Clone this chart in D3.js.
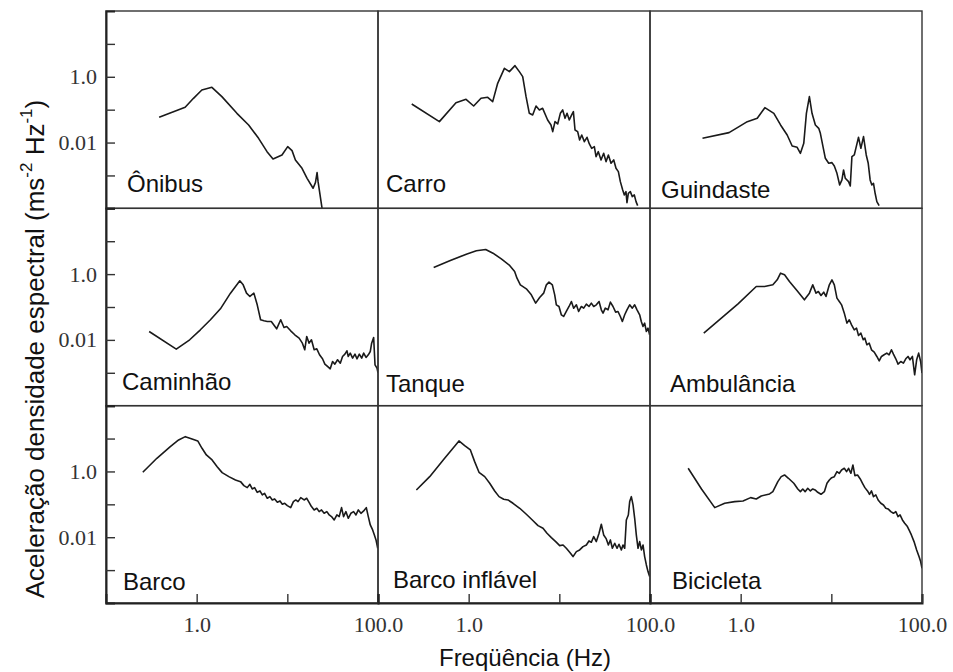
<!DOCTYPE html>
<html><head><meta charset="utf-8">
<script src="https://cdn.jsdelivr.net/npm/d3@7/dist/d3.min.js"></script>
<style>body{margin:0;background:#fff}svg{display:block}</style>
</head><body>
<svg id="c" width="953" height="672"></svg>
<script>
// Values, as [log10(frequency Hz), log10(PSD m²s⁻⁴/Hz)]
const panelNames = ["Ônibus","Carro","Guindaste","Caminhão","Tanque","Ambulância","Barco","Barco inflável","Bicicleta"];
const xTickValues = [1, 10, 100];
const xTickLabels = ["1.0", "", "100.0"];
const yTickValues = [1e-3, 1e-2, 1e-1, 1, 10];
const yTickLabels = ["", "0.01", "", "1.0", ""];

const onibus = [[-0.414,-1.233],[-0.127,-0.928],[-0.035,-0.655],[0.057,-0.402],[0.168,-0.320],[0.278,-0.604],[0.444,-1.111],[0.573,-1.465],[0.683,-1.871],[0.776,-2.276],[0.842,-2.499],[0.941,-2.377],[1.004,-2.124],[1.052,-2.245],[1.089,-2.529],[1.162,-2.783],[1.218,-3.087],[1.284,-3.390],[1.310,-3.218],[1.328,-2.914],[1.339,-3.188],[1.383,-4.0]];
const carro = [[-0.628,-0.827],[-0.323,-1.364],[-0.140,-0.787],[-0.029,-0.685],[0.055,-0.888],[0.136,-0.655],[0.210,-0.624],[0.265,-0.756],[0.320,-0.199],[0.394,0.257],[0.449,0.156],[0.511,0.338],[0.559,0.156],[0.596,0.004],[0.633,-0.604],[0.669,-1.111],[0.706,-1.161],[0.743,-0.888],[0.780,-1.009],[0.816,-0.959],[0.871,-1.313],[0.908,-1.465],[0.927,-1.668],[0.952,-1.364],[0.982,-1.435],[1.011,-1.111],[1.037,-1.009],[1.063,-1.263],[1.085,-1.111],[1.110,-1.313],[1.136,-1.161],[1.155,-1.060],[1.173,-1.617],[1.202,-1.668],[1.224,-1.921],[1.247,-1.769],[1.276,-1.972],[1.305,-1.840],[1.331,-2.043],[1.357,-2.175],[1.386,-2.124],[1.405,-2.428],[1.430,-2.276],[1.460,-2.529],[1.489,-2.327],[1.515,-2.580],[1.541,-2.377],[1.570,-2.630],[1.600,-2.529],[1.625,-2.783],[1.651,-2.884],[1.673,-3.188],[1.699,-3.441],[1.717,-3.593],[1.735,-3.492],[1.746,-3.826],[1.761,-3.542],[1.783,-3.492],[1.805,-3.644],[1.827,-3.593],[1.846,-3.796],[1.864,-3.917]];
const guindaste = [[-0.421,-1.871],[-0.128,-1.698],[-0.018,-1.516],[0.073,-1.364],[0.183,-1.263],[0.267,-0.939],[0.366,-1.111],[0.440,-1.465],[0.513,-1.769],[0.568,-2.104],[0.623,-2.144],[0.659,-2.327],[0.696,-2.023],[0.725,-1.111],[0.758,-0.604],[0.787,-1.111],[0.824,-1.465],[0.861,-1.567],[0.879,-1.719],[0.908,-2.124],[0.934,-2.479],[0.971,-2.631],[1.007,-2.610],[1.033,-2.712],[1.062,-2.935],[1.092,-3.289],[1.117,-3.137],[1.135,-2.833],[1.154,-3.087],[1.190,-3.188],[1.209,-3.320],[1.227,-2.428],[1.253,-2.377],[1.275,-2.124],[1.300,-1.840],[1.326,-2.175],[1.355,-1.820],[1.385,-2.377],[1.407,-2.631],[1.428,-3.137],[1.447,-3.289],[1.465,-3.238],[1.483,-3.542],[1.502,-3.796],[1.527,-3.917]];
const caminhao = [[-0.524,-1.744],[-0.225,-2.281],[-0.077,-1.997],[0.041,-1.693],[0.152,-1.389],[0.262,-1.055],[0.373,-0.579],[0.476,-0.204],[0.513,-0.326],[0.550,-0.579],[0.587,-0.680],[0.631,-0.579],[0.668,-0.934],[0.705,-1.389],[0.742,-1.420],[0.779,-1.440],[0.823,-1.440],[0.882,-1.663],[0.927,-1.389],[0.963,-1.622],[0.993,-1.592],[1.037,-1.724],[1.082,-1.845],[1.130,-1.947],[1.166,-2.099],[1.192,-2.301],[1.214,-1.896],[1.240,-2.099],[1.266,-1.997],[1.296,-2.301],[1.325,-2.271],[1.355,-2.453],[1.388,-2.575],[1.414,-2.737],[1.443,-2.808],[1.473,-2.879],[1.499,-2.656],[1.524,-2.737],[1.554,-2.605],[1.584,-2.707],[1.609,-2.504],[1.635,-2.433],[1.657,-2.332],[1.672,-2.504],[1.694,-2.402],[1.720,-2.555],[1.746,-2.433],[1.768,-2.575],[1.794,-2.433],[1.820,-2.555],[1.842,-2.402],[1.868,-2.534],[1.893,-2.453],[1.915,-2.352],[1.930,-2.099],[1.952,-1.926],[1.967,-2.757],[1.989,-2.859],[2.0,-3.0]];
const tanque = [[-0.386,0.201],[-0.209,0.404],[-0.026,0.606],[0.085,0.708],[0.188,0.748],[0.268,0.637],[0.360,0.465],[0.452,0.262],[0.507,0.080],[0.533,-0.123],[0.570,-0.326],[0.636,-0.447],[0.691,-0.630],[0.739,-0.883],[0.783,-0.711],[0.827,-0.579],[0.857,-0.326],[0.886,-0.245],[0.923,-0.326],[0.949,-0.630],[0.967,-0.934],[0.996,-0.984],[1.022,-1.237],[1.048,-1.288],[1.077,-1.136],[1.107,-0.984],[1.133,-0.832],[1.158,-1.035],[1.188,-0.934],[1.213,-1.136],[1.243,-0.984],[1.269,-1.035],[1.298,-0.913],[1.327,-0.984],[1.353,-0.883],[1.379,-0.984],[1.408,-0.934],[1.438,-0.832],[1.463,-1.085],[1.482,-1.187],[1.507,-1.035],[1.537,-1.085],[1.563,-0.852],[1.592,-0.984],[1.621,-1.156],[1.647,-1.136],[1.673,-1.288],[1.695,-1.440],[1.721,-1.237],[1.746,-1.085],[1.776,-0.934],[1.805,-1.035],[1.831,-0.934],[1.857,-1.085],[1.886,-1.237],[1.904,-1.440],[1.923,-1.592],[1.941,-1.491],[1.960,-1.744],[1.978,-1.643],[1.996,-1.845]];
const ambulancia = [[-0.407,-1.795],[-0.213,-1.339],[-0.029,-0.903],[0.172,-0.376],[0.264,-0.376],[0.355,-0.326],[0.403,-0.174],[0.440,0.029],[0.484,-0.022],[0.538,-0.224],[0.623,-0.508],[0.703,-0.782],[0.758,-0.579],[0.795,-0.326],[0.831,-0.579],[0.857,-0.528],[0.886,-0.650],[0.916,-0.549],[0.941,-0.680],[0.978,-0.326],[1.007,-0.174],[1.033,-0.326],[1.062,-0.731],[1.088,-0.832],[1.113,-0.934],[1.143,-1.187],[1.172,-1.491],[1.198,-1.389],[1.223,-1.542],[1.253,-1.693],[1.278,-1.643],[1.300,-1.866],[1.326,-1.795],[1.352,-1.997],[1.370,-1.947],[1.392,-2.149],[1.418,-2.099],[1.443,-2.301],[1.473,-2.372],[1.502,-2.504],[1.528,-2.636],[1.553,-2.504],[1.582,-2.453],[1.612,-2.402],[1.637,-2.453],[1.663,-2.301],[1.685,-2.433],[1.711,-2.575],[1.736,-2.737],[1.766,-2.656],[1.795,-2.707],[1.821,-2.575],[1.846,-2.504],[1.868,-2.605],[1.894,-2.504],[1.919,-3.061],[1.941,-2.605],[1.963,-2.402],[1.985,-2.656],[2.0,-3.01]];
const barco = [[-0.594,-0.026],[-0.439,0.400],[-0.291,0.754],[-0.199,0.957],[-0.125,1.058],[-0.051,0.987],[0.012,0.927],[0.059,0.704],[0.107,0.501],[0.170,0.349],[0.226,0.146],[0.281,-0.036],[0.355,-0.158],[0.428,-0.259],[0.484,-0.310],[0.521,-0.431],[0.558,-0.492],[0.587,-0.391],[0.613,-0.533],[0.639,-0.492],[0.668,-0.634],[0.698,-0.593],[0.724,-0.715],[0.749,-0.664],[0.779,-0.816],[0.808,-0.766],[0.834,-0.867],[0.860,-0.836],[0.890,-0.938],[0.919,-0.897],[0.945,-0.999],[0.971,-0.968],[1.000,-1.039],[1.037,-1.100],[1.067,-0.917],[1.093,-0.867],[1.118,-0.917],[1.148,-0.796],[1.185,-0.867],[1.214,-0.816],[1.240,-0.938],[1.266,-1.069],[1.296,-1.171],[1.325,-1.120],[1.351,-1.221],[1.377,-1.171],[1.406,-1.272],[1.436,-1.221],[1.462,-1.323],[1.487,-1.373],[1.517,-1.475],[1.547,-1.323],[1.572,-1.373],[1.598,-1.100],[1.620,-1.373],[1.646,-1.221],[1.672,-1.424],[1.701,-1.272],[1.731,-1.221],[1.757,-1.323],[1.783,-1.171],[1.812,-1.272],[1.842,-1.201],[1.871,-1.100],[1.893,-1.373],[1.915,-1.627],[1.941,-1.779],[1.960,-1.931],[1.978,-2.083],[1.997,-2.336]];
const barcoInflavel = [[-0.577,-0.563],[-0.430,-0.158],[-0.265,0.400],[-0.173,0.704],[-0.107,0.927],[-0.044,0.785],[0.019,0.653],[0.066,0.298],[0.114,-0.026],[0.177,-0.158],[0.232,-0.360],[0.287,-0.593],[0.335,-0.766],[0.386,-0.847],[0.434,-0.867],[0.489,-0.968],[0.563,-1.120],[0.636,-1.302],[0.702,-1.475],[0.765,-1.647],[0.820,-1.728],[0.864,-1.880],[0.912,-2.012],[0.960,-2.133],[1.004,-2.255],[1.041,-2.235],[1.077,-2.336],[1.114,-2.457],[1.151,-2.589],[1.188,-2.437],[1.224,-2.386],[1.261,-2.285],[1.298,-2.235],[1.327,-2.113],[1.353,-2.153],[1.379,-1.981],[1.408,-2.133],[1.438,-1.880],[1.463,-1.606],[1.489,-1.931],[1.518,-2.052],[1.541,-2.235],[1.563,-2.083],[1.585,-2.336],[1.611,-2.184],[1.636,-2.336],[1.658,-2.214],[1.684,-2.386],[1.702,-2.235],[1.721,-2.336],[1.739,-1.475],[1.761,-1.323],[1.776,-0.917],[1.794,-0.766],[1.813,-1.019],[1.831,-1.424],[1.849,-1.931],[1.868,-2.336],[1.886,-2.133],[1.905,-2.386],[1.923,-2.235],[1.941,-2.589],[1.960,-2.843],[1.978,-3.045],[1.996,-3.197]];
const bicicleta = [[-0.579,0.096],[-0.432,-0.533],[-0.286,-1.100],[-0.176,-0.968],[-0.066,-0.917],[0.026,-0.897],[0.110,-0.796],[0.172,-0.836],[0.227,-0.745],[0.319,-0.685],[0.355,-0.614],[0.410,-0.310],[0.447,-0.158],[0.484,-0.107],[0.527,-0.208],[0.586,-0.360],[0.630,-0.533],[0.659,-0.614],[0.685,-0.533],[0.711,-0.614],[0.740,-0.512],[0.769,-0.593],[0.795,-0.533],[0.821,-0.563],[0.850,-0.634],[0.886,-0.695],[0.923,-0.614],[0.952,-0.360],[0.978,-0.259],[1.004,-0.188],[1.033,-0.158],[1.062,-0.006],[1.088,-0.056],[1.113,0.045],[1.143,0.096],[1.168,-0.006],[1.190,0.096],[1.216,-0.056],[1.238,0.197],[1.260,-0.127],[1.289,-0.107],[1.319,-0.228],[1.344,-0.360],[1.370,-0.492],[1.399,-0.593],[1.421,-0.695],[1.443,-0.593],[1.465,-0.766],[1.491,-0.715],[1.516,-0.867],[1.546,-0.968],[1.575,-1.019],[1.601,-1.120],[1.626,-1.140],[1.656,-1.221],[1.685,-1.272],[1.711,-1.221],[1.736,-1.373],[1.758,-1.323],[1.784,-1.475],[1.809,-1.576],[1.839,-1.677],[1.857,-1.779],[1.883,-1.931],[1.912,-2.133],[1.941,-2.386],[1.967,-2.589],[1.985,-2.741],[2.0,-2.944]];
const seriesList = [onibus, carro, guindaste, caminhao, tanque, ambulancia, barco, barcoInflavel, bicicleta];

// label placement tweaks (offset from panel left / bottom)
const labelDx = [21, 8, 11, 16, 8, 20, 17, 15, 22];
const labelDy = [16, 16, 10, 16, 14, 14, 13, 15, 14];

const gLeft = 106, gRight = 922, gTop = 11, gBottom = 603;
const colW = (gRight - gLeft) / 3, rowH = (gBottom - gTop) / 3;
const svg = d3.select("#c");
const x = d3.scaleLog().domain([0.1, 100]).range([0, colW]);
const y = d3.scaleLog().domain([1e-4, 1e2]).range([rowH, 0]);
const line = d3.line().x(d => x(d[0])).y(d => y(d[1]));

seriesList.forEach((s, i) => {
  const c = i % 3, r = Math.floor(i / 3);
  const g = svg.append("g").attr("transform", `translate(${gLeft + c * colW},${gTop + r * rowH})`);
  g.append("clipPath").attr("id", "cp" + i).append("rect").attr("width", colW).attr("height", rowH);
  const pts = s.map(p => [Math.pow(10, p[0]), Math.pow(10, p[1])]);
  g.append("path").attr("d", line(pts)).attr("clip-path", `url(#cp${i})`)
    .attr("fill", "none").attr("stroke", "#1a1a1a").attr("stroke-width", 1.6).attr("stroke-linejoin", "round");
  g.append("rect").attr("width", colW).attr("height", rowH).attr("fill", "none").attr("stroke", "#333").attr("stroke-width", 1.4);
  g.append("text").attr("x", labelDx[i]).attr("y", rowH - labelDy[i])
    .attr("font-family", "Liberation Sans, Arial, sans-serif").attr("font-size", 24).attr("fill", "#111")
    .text(panelNames[i]);

  if (c === 0) {
    const ax = g.append("g").call(d3.axisLeft(y).tickValues(yTickValues).tickSize(-9).tickPadding(9)
      .tickFormat((d, k) => yTickLabels[k]));
    ax.select(".domain").attr("stroke", "#222").attr("stroke-width", 2);
    ax.selectAll(".tick line").attr("stroke", "#333").attr("stroke-width", 1.4);
    ax.selectAll(".tick text").attr("font-family", "Liberation Serif, Times New Roman, serif").attr("font-size", 22).attr("fill", "#333");
  }
  if (r === 2) {
    const ax = g.append("g").attr("transform", `translate(0,${rowH})`)
      .call(d3.axisBottom(x).tickValues(xTickValues).tickSize(-9).tickPadding(13)
      .tickFormat((d, k) => xTickLabels[k]));
    ax.select(".domain").attr("stroke", "#222").attr("stroke-width", 2);
    ax.selectAll(".tick line").attr("stroke", "#333").attr("stroke-width", 1.4);
    ax.selectAll(".tick text").attr("font-family", "Liberation Serif, Times New Roman, serif").attr("font-size", 22).attr("fill", "#333");
  }
});

svg.append("text").attr("x", 525).attr("y", 666).attr("text-anchor", "middle")
  .attr("font-family", "Liberation Sans, Arial, sans-serif").attr("font-size", 24).attr("fill", "#111")
  .text("Freqüência (Hz)");

const yt = svg.append("text").attr("transform", "translate(44,349) rotate(-90)").attr("text-anchor", "middle")
  .attr("font-family", "Liberation Sans, Arial, sans-serif").attr("font-size", 26).attr("fill", "#111");
yt.append("tspan").text("Aceleração densidade espectral (ms");
yt.append("tspan").attr("dy", -12).attr("font-size", 17).text("-2");
yt.append("tspan").attr("dy", 12).text(" Hz");
yt.append("tspan").attr("dy", -12).attr("font-size", 17).text("-1");
yt.append("tspan").attr("dy", 12).text(")");
</script>
</body></html>
